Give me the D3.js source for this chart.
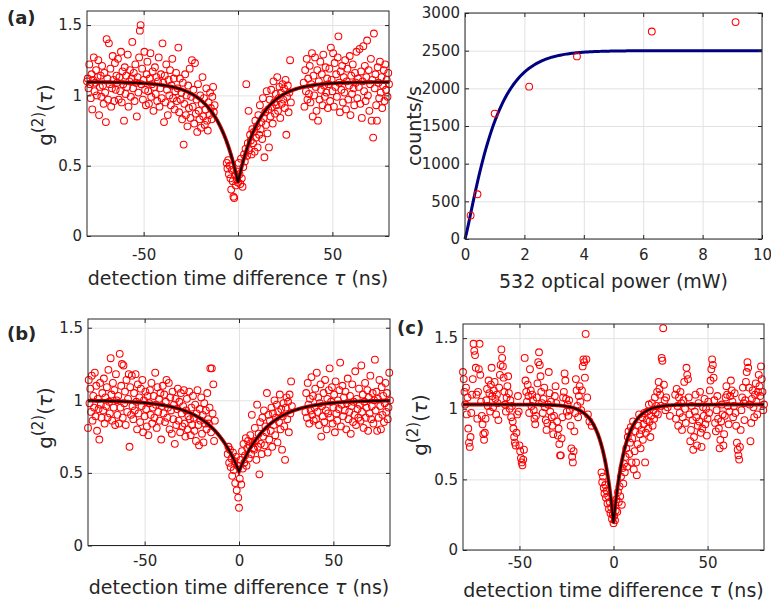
<!DOCTYPE html>
<html>
<head>
<meta charset="utf-8">
<script src="https://cdn.jsdelivr.net/npm/d3@7"></script>
<style>
  body { margin: 0; background: #fff; }
  svg { display: block; }
  text { font-family: 'DejaVu Sans', sans-serif; fill: #262626; }
</style>
</head>
<body>
<svg id="fig" width="771" height="605"></svg>
<script>
const N = null // empty time bin

// time bins of the g2 histograms (ns)
const tauStart = -80
const tauStep = 0.4

// panel (a) g2 values, one row = 8 ns
const g2A = [
  1.10,1.12,1.05,1.22,1.08,0.98,1.15,0.90,1.11,1.27,1.03,1.09,1.18,1.00,1.13,1.25,0.86,1.06,1.14,0.99,
  1.21,1.07,0.94,1.16,1.02,0.81,1.40,1.12,0.97,1.37,1.08,1.19,0.92,1.05,1.28,1.11,0.96,1.23,1.04,1.14,
  1.09,1.26,0.97,1.13,1.03,1.31,0.95,1.17,1.08,0.82,1.20,1.01,1.14,1.06,1.29,0.92,1.10,1.18,0.99,1.12,
  1.38,1.05,1.16,0.96,1.22,1.09,0.85,1.13,1.02,1.27,1.46,1.50,1.08,1.19,0.97,1.11,1.31,1.04,0.93,1.15,
  1.24,1.03,0.94,1.12,1.30,0.99,1.08,1.17,0.89,1.06,1.20,1.01,1.13,0.96,1.10,1.27,0.92,1.05,1.15,0.98,
  1.37,1.09,0.81,1.14,0.95,1.22,1.04,0.86,1.11,1.00,1.18,0.93,1.07,1.26,0.98,1.12,0.90,1.03,1.16,0.96,
  1.05,1.34,0.88,1.12,0.97,1.02,0.83,1.09,0.65,0.94,1.15,0.86,1.00,0.78,1.07,0.91,1.19,0.84,0.99,1.25,
  0.92,1.04,0.80,1.23,0.87,0.97,0.74,1.08,0.89,0.83,1.00,0.77,0.94,1.13,0.85,0.98,0.79,0.90,1.05,0.82,
  0.75,0.95,0.86,1.02,0.91,0.83,0.99,1.06,0.88,0.93,N,N,N,N,N,N,N,N,N,N,
  N,N,N,N,N,0.52,0.48,0.54,0.44,0.50,0.41,0.33,0.47,0.39,0.28,0.27,0.43,0.36,0.46,0.40,
  0.38,0.52,0.44,0.37,0.55,0.41,0.35,0.49,0.58,0.53,0.62,1.08,0.57,0.66,0.89,0.61,0.72,0.68,0.58,0.76,
  0.66,0.74,0.60,0.82,0.70,0.78,0.63,0.86,0.72,0.93,0.76,0.81,0.69,0.98,0.84,0.56,0.88,0.79,1.03,0.73,
  0.90,0.63,0.97,0.85,1.04,0.92,0.80,1.10,0.95,0.87,1.01,0.93,1.13,0.89,0.98,1.06,0.84,1.02,0.94,1.08,
  0.97,1.05,0.91,1.11,0.72,0.99,1.07,0.88,1.02,1.25,0.95,N,N,N,N,N,N,N,N,N,
  N,N,N,N,N,N,N,1.09,0.92,1.18,1.03,1.26,0.97,1.12,1.01,1.21,0.95,1.08,1.30,0.85,
  1.14,1.00,1.27,1.06,0.89,1.18,0.82,1.10,0.97,1.24,1.04,1.15,0.93,1.29,1.07,0.99,1.20,1.02,1.12,0.91,
  1.08,1.19,0.96,1.34,1.11,1.03,1.30,0.92,1.23,1.06,1.15,0.99,1.27,1.42,1.09,0.88,1.17,1.04,1.21,0.95,
  1.13,1.02,1.25,0.90,1.10,1.19,0.97,1.07,1.28,0.86,1.14,1.01,1.22,1.05,0.93,1.16,1.09,1.31,0.98,1.12,
  1.06,1.33,0.94,1.17,0.84,1.10,1.35,1.03,1.21,0.96,1.13,1.39,1.00,1.18,0.89,1.08,1.26,0.82,1.11,0.70,
  1.44,1.05,1.15,0.93,0.82,1.20,1.09,0.98,1.24,1.02,1.13,0.91,1.07,1.18,0.96,1.22,1.04,1.11,0.99,1.16,
  1.08
]

// panel (b) g2 values
const g2B = [
  0.81,1.14,0.98,1.08,0.92,1.17,0.86,1.03,0.95,1.19,0.89,1.10,0.79,1.01,0.94,0.73,1.12,0.97,0.88,1.05,
  0.93,1.15,0.84,1.02,0.96,1.09,0.88,1.21,0.99,0.91,1.29,1.04,0.86,1.12,0.95,1.07,0.83,1.18,1.00,0.90,
  1.03,0.84,1.32,0.95,1.10,1.25,0.88,1.24,0.98,1.06,0.83,1.14,0.92,1.01,1.18,0.68,1.09,0.90,1.17,0.96,
  0.87,1.05,0.93,1.18,0.99,0.80,1.11,0.91,1.02,0.85,1.08,0.96,1.14,0.78,1.00,0.89,1.06,0.94,0.82,1.03,
  0.76,0.98,1.07,0.90,1.12,0.84,0.95,1.03,0.88,1.19,0.97,0.81,1.09,0.92,1.01,0.86,1.05,0.73,0.96,1.10,
  0.91,1.04,0.85,0.99,1.14,0.88,0.95,1.12,0.80,1.02,0.93,0.77,1.06,0.87,0.97,0.70,1.01,0.83,0.94,1.08,
  0.86,0.99,0.78,1.05,0.91,0.82,0.96,1.07,0.84,0.75,0.93,1.01,0.80,0.89,1.06,0.87,0.76,0.95,0.83,1.03,
  0.88,0.79,0.97,0.72,0.91,1.07,0.83,0.69,0.94,0.86,1.02,0.77,0.90,0.71,0.98,0.84,0.93,0.80,1.05,0.87,
  0.84,0.95,1.22,0.78,1.22,0.91,1.11,0.72,0.86,N,N,N,N,N,N,N,N,N,N,N,
  N,N,N,N,N,0.63,0.68,0.57,0.66,0.54,0.60,0.48,0.64,0.52,0.58,0.43,0.61,0.38,0.55,0.33,
  0.26,0.46,0.59,0.42,0.65,0.53,0.70,0.57,0.62,0.74,0.55,0.67,0.72,0.60,0.69,0.76,0.63,0.90,0.71,0.67,
  0.66,0.81,0.72,0.59,0.97,0.68,0.77,0.49,0.85,0.70,0.63,0.88,0.75,0.93,0.69,0.82,0.78,1.05,0.64,0.90,
  0.73,0.86,0.79,0.95,0.68,0.91,0.83,1.00,0.76,0.88,0.97,0.71,0.92,0.85,1.04,0.80,0.94,0.66,0.89,0.98,
  0.82,0.59,0.95,1.02,0.87,0.99,0.78,1.04,0.91,1.13,0.96,N,N,N,N,N,N,N,N,N,
  N,N,N,N,N,N,N,N,0.92,1.05,0.88,1.12,0.97,0.84,1.01,0.93,1.16,0.90,1.03,0.86,
  0.95,1.08,0.87,1.19,0.92,1.02,0.83,0.98,1.11,0.75,0.96,0.89,1.05,0.85,1.14,0.93,0.80,1.01,0.91,1.07,
  1.22,0.88,0.99,1.09,0.84,0.95,1.04,0.78,1.13,0.91,0.86,1.00,0.94,1.07,1.26,0.82,0.97,1.10,0.89,1.02,
  0.93,1.06,0.80,0.98,1.15,0.87,0.92,1.03,0.77,0.96,1.11,0.85,0.99,0.90,1.20,0.83,1.01,0.94,0.88,1.08,
  0.97,0.86,1.24,0.92,1.04,0.81,0.99,1.12,0.88,0.95,1.07,0.79,1.02,0.91,1.17,0.87,0.96,1.05,0.84,1.00,
  1.28,0.93,1.06,0.79,1.01,0.88,1.14,0.96,0.80,1.09,0.90,1.03,0.85,0.98,1.12,0.92,1.05,0.87,0.95,1.19,
  1.00
]

// panel (c) g2 values
const g2C = [
  1.26,1.21,1.12,1.03,1.15,0.96,1.08,0.86,0.76,0.73,0.80,0.97,1.10,1.21,1.46,1.41,1.38,1.29,1.10,0.93,
  1.12,1.28,1.46,1.24,1.05,0.95,0.89,0.82,0.78,0.83,0.93,1.06,1.14,1.02,1.20,1.11,0.98,1.17,1.29,1.09,
  1.01,1.13,1.19,1.07,0.96,1.10,1.04,0.92,1.15,1.24,1.31,1.42,1.36,1.30,1.22,1.12,1.03,0.98,1.08,1.16,
  1.23,1.11,1.00,1.06,0.94,1.02,0.91,0.86,0.80,0.76,0.74,0.83,0.96,1.09,0.98,0.74,0.70,0.65,0.62,0.60,
  0.64,0.71,1.36,1.20,1.12,1.05,1.17,1.09,0.97,1.28,1.13,1.02,1.10,1.06,0.99,0.93,0.89,0.95,1.08,1.18,
  1.33,1.40,1.31,1.23,1.12,1.04,0.97,1.07,1.15,1.01,0.92,0.85,0.90,1.03,1.26,1.11,0.98,1.05,0.94,0.88,
  0.82,0.95,1.09,1.16,1.04,0.91,0.81,0.86,0.75,0.67,0.67,0.79,0.94,1.08,1.12,1.25,1.20,1.07,0.98,1.03,
  0.95,1.06,0.99,0.88,0.72,0.66,0.62,0.70,0.84,0.97,1.21,1.13,1.02,0.94,1.09,1.16,1.05,0.99,1.13,1.30,
  1.35,1.33,1.22,1.53,1.35,1.08,0.96,N,0.91,N,N,0.88,N,N,N,N,N,N,N,N,
  N,N,N,N,0.55,0.48,0.52,0.44,0.40,0.46,0.37,0.42,0.33,0.38,0.29,0.34,0.26,0.30,0.22,0.25,
  0.19,0.24,0.21,0.28,0.36,0.27,0.41,0.34,0.45,0.38,0.52,0.32,0.58,0.47,0.61,0.55,0.66,0.72,0.59,0.80,
  0.84,0.68,0.76,0.87,0.62,0.79,0.91,0.57,0.70,0.84,0.62,0.53,0.75,0.88,0.96,0.82,0.72,0.85,0.94,0.78,
  0.89,0.97,0.62,0.83,0.92,0.98,0.86,1.03,0.91,0.80,0.95,1.04,0.88,0.99,0.93,1.08,0.97,1.02,1.12,0.96,
  1.19,1.14,1.10,1.02,1.36,1.34,1.57,1.17,1.06,0.99,1.08,N,1.01,N,N,0.95,N,N,N,N,
  N,N,1.10,0.93,1.14,1.02,0.88,1.08,0.97,1.12,1.04,0.85,0.94,1.06,1.19,1.00,0.90,1.29,1.24,1.21,
  1.08,0.96,0.77,0.85,1.02,0.92,0.71,0.80,0.98,1.10,0.94,0.74,0.88,1.04,0.91,1.12,0.83,0.73,0.86,1.01,
  0.95,1.07,0.89,1.00,0.81,0.93,1.05,0.97,1.13,1.20,1.28,1.35,1.31,1.22,1.06,0.90,0.84,0.99,1.09,0.93,
  0.86,0.72,0.78,0.91,1.03,0.96,0.74,0.82,0.95,1.08,1.16,1.10,1.02,0.89,0.98,1.09,1.20,1.13,1.05,0.94,
  1.02,1.11,0.97,0.88,0.76,0.71,0.67,0.64,0.73,0.85,0.99,1.08,1.15,1.04,0.92,1.06,1.19,1.26,1.33,1.29,
  1.15,1.03,0.77,0.90,1.07,1.13,1.01,0.94,1.10,1.18,1.05,0.96,1.12,1.24,1.16,1.09,1.30,1.21,1.12,0.99,
  1.03
]

// fitted antibunching dips: g2 = base - depth * exp(-|tau| / tau0)
const fitA = { base: 1.095, depth: 0.715, tau0: 11.5 }
const fitB = { base: 1.0, depth: 0.49, tau0: 15 }
const fitC = { base: 1.03, depth: 0.84, tau0: 6.0 }

// saturation measurement
const powerMW = [0.19, 0.42, 1.0, 2.16, 3.77, 6.29, 9.11]
const countsPerS = [312, 594, 1665, 2022, 2424, 2754, 2879]
const satFit = { counts: 2500, power: 1.02, shape: 1.15 }

// ticks
const tauTicks = [-50, 0, 50]
const g2Ticks = [0, 0.5, 1, 1.5]
const powerTicks = [0, 2, 4, 6, 8, 10]
const countTicks = [0, 500, 1000, 1500, 2000, 2500, 3000]

const svg = d3.select('#fig')
const tickLen = 4

// light grid behind the marks
function drawGrid(g, x, y, xTicks, yTicks) {
  const [x0, x1] = x.range()
  const [y1, y0] = y.range()
  g.append('g')
    .attr('transform', `translate(0,${y1})`)
    .call(d3.axisBottom(x).tickValues(xTicks).tickSize(-(y1 - y0)).tickFormat(''))
    .call((s) => s.select('.domain').remove())
    .selectAll('line').attr('stroke', '#e2e2e2')
  g.append('g')
    .attr('transform', `translate(${x0},0)`)
    .call(d3.axisLeft(y).tickValues(yTicks).tickSize(-(x1 - x0)).tickFormat(''))
    .call((s) => s.select('.domain').remove())
    .selectAll('line').attr('stroke', '#e2e2e2')
}

// box axes in the MATLAB look: inward ticks on all four sides
function drawAxes(g, x, y, xTicks, yTicks, c) {
  const [x0, x1] = x.range()
  const [y1, y0] = y.range()
  const style = (s) => {
    s.select('.domain').remove()
    s.selectAll('line').attr('stroke', '#262626')
    s.selectAll('text').attr('fill', '#262626').style('font-size', '15px')
      .style('font-family', "'DejaVu Sans', sans-serif")
  }
  g.append('g')
    .attr('transform', `translate(0,${y1})`)
    .call(d3.axisBottom(x).tickValues(xTicks).tickSize(-tickLen).tickPadding(c.xPad).tickFormat((d) => String(d)))
    .call(style)
  g.append('g')
    .attr('transform', `translate(0,${y0})`)
    .call(d3.axisTop(x).tickValues(xTicks).tickSize(-tickLen).tickFormat(''))
    .call(style)
  g.append('g')
    .attr('transform', `translate(${x0},0)`)
    .call(d3.axisLeft(y).tickValues(yTicks).tickSize(-tickLen).tickPadding(5).tickFormat((d) => String(d)))
    .call(style)
  g.append('g')
    .attr('transform', `translate(${x1},0)`)
    .call(d3.axisRight(y).tickValues(yTicks).tickSize(-tickLen).tickFormat(''))
    .call(style)
  g.append('rect')
    .attr('x', x0).attr('y', y0)
    .attr('width', x1 - x0).attr('height', y1 - y0)
    .attr('fill', 'none').attr('stroke', '#262626').attr('stroke-width', 1)
}

function g2Label(g, c) {
  const t = g.append('text')
    .attr('transform', `translate(${c.yLabX},${c.yLabY}) rotate(-90)`)
    .attr('text-anchor', 'middle')
    .style('font-size', '20px')
  t.append('tspan').text('g')
  t.append('tspan').attr('dy', -9).style('font-size', '15px').text('(2)')
  t.append('tspan').attr('dy', 9).text('(')
  t.append('tspan').style('font-style', 'italic').text('τ')
  t.append('tspan').text(')')
}

function tauLabel(g, c) {
  const t = g.append('text')
    .attr('x', (c.left + c.right) / 2).attr('y', c.xLabY)
    .attr('text-anchor', 'middle')
    .style('font-size', '19px')
  t.append('tspan').text('detection time difference ')
  t.append('tspan').style('font-style', 'italic').text('τ')
  t.append('tspan').text(' (ns)')
}

function panelLetter(c) {
  svg.append('text')
    .attr('x', c.letterX).attr('y', c.letterY)
    .style('font-size', '18px').style('font-weight', 'bold')
    .attr('fill', '#000')
    .text(c.letter)
}

function drawG2(c, values, fit) {
  const g = svg.append('g').attr('id', 'panel-' + c.letter)
  const x = d3.scaleLinear().domain([-80, 80]).range([c.left, c.right])
  const y = d3.scaleLinear().domain([0, c.yMax]).range([c.bottom, c.top])

  drawGrid(g, x, y, tauTicks, g2Ticks)

  const pts = values
    .map((v, i) => ({ tau: tauStart + i * tauStep, g2: v }))
    .filter((d) => d.g2 !== null)

  g.append('g')
    .selectAll('circle')
    .data(pts)
    .join('circle')
    .attr('cx', (d) => x(d.tau))
    .attr('cy', (d) => y(d.g2))
    .attr('r', 3.4)
    .attr('fill', 'none')
    .attr('stroke', '#ff0000')
    .attr('stroke-width', 1.05)

  const model = (t) => fit.base - fit.depth * Math.exp(-Math.abs(t) / fit.tau0)
  const line = d3.line().x((t) => x(t)).y((t) => y(model(t)))
  const taus = d3.range(-80, 80.001, 0.1)
  g.append('path').attr('d', line(taus)).attr('fill', 'none')
    .attr('stroke', '#d40000').attr('stroke-width', 3.8)
  g.append('path').attr('d', line(taus)).attr('fill', 'none')
    .attr('stroke', '#000').attr('stroke-width', 1.7)

  drawAxes(g, x, y, tauTicks, g2Ticks, c)
  g2Label(g, c)
  tauLabel(g, c)
  panelLetter(c)
}

drawG2({ letter: '(a)', left: 87, right: 389, top: 11, bottom: 236, yMax: 1.6, xPad: 13,
  xLabY: 285, yLabX: 52, yLabY: 115, letterX: 7, letterY: 24 }, g2A, fitA)
drawG2({ letter: '(b)', left: 88, right: 390, top: 319, bottom: 545.5, yMax: 1.56, xPad: 10,
  xLabY: 594, yLabX: 52, yLabY: 418, letterX: 7, letterY: 340 }, g2B, fitB)
drawG2({ letter: '(c)', left: 463, right: 764, top: 324, bottom: 550, yMax: 1.6, xPad: 7,
  xLabY: 597, yLabX: 427, yLabY: 425, letterX: 397, letterY: 334 }, g2C, fitC)

// saturation panel
{
  const c = { left: 465, right: 762, top: 13, bottom: 239, xPad: 10 }
  const g = svg.append('g').attr('id', 'panel-sat')
  const x = d3.scaleLinear().domain([0, 10]).range([c.left, c.right])
  const y = d3.scaleLinear().domain([0, 3000]).range([c.bottom, c.top])

  drawGrid(g, x, y, powerTicks, countTicks)

  const sat = (p) => satFit.counts * (1 - Math.exp(-Math.pow(p / satFit.power, satFit.shape)))
  g.append('path')
    .attr('d', d3.line().x((p) => x(p)).y((p) => y(sat(p)))(d3.range(0, 10.001, 0.05)))
    .attr('fill', 'none').attr('stroke', '#000080').attr('stroke-width', 3)

  g.append('g')
    .selectAll('circle')
    .data(powerMW.map((p, i) => ({ p, n: countsPerS[i] })))
    .join('circle')
    .attr('cx', (d) => x(d.p))
    .attr('cy', (d) => y(d.n))
    .attr('r', 3.4)
    .attr('fill', 'none')
    .attr('stroke', '#ff0000')
    .attr('stroke-width', 1.05)

  drawAxes(g, x, y, powerTicks, countTicks, c)

  g.append('text')
    .attr('transform', `translate(421,126) rotate(-90)`)
    .attr('text-anchor', 'middle')
    .style('font-size', '19px')
    .text('counts/s')
  g.append('text')
    .attr('x', (c.left + c.right) / 2).attr('y', 288)
    .attr('text-anchor', 'middle')
    .style('font-size', '19px')
    .text('532 optical power (mW)')
}
</script>
</body>
</html>
